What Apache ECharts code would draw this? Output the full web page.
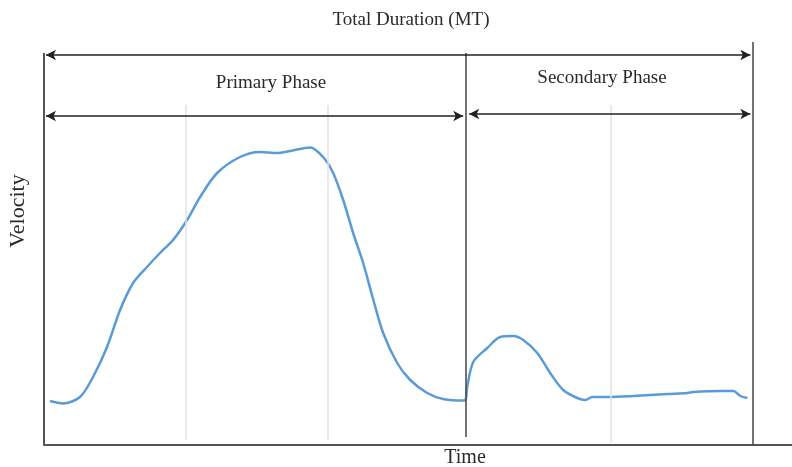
<!DOCTYPE html>
<html>
<head>
<meta charset="utf-8">
<script src="https://cdn.jsdelivr.net/npm/echarts@6/dist/echarts.min.js"></script>
<style>
  html, body { margin: 0; padding: 0; background: #fff; }
  #chart { width: 792px; height: 467px; }
</style>
</head>
<body>
<div id="chart"></div>
<script>
// time (normalised, 1 unit = one grid step) and velocity (0-100)
const time = [
  0.042, 0.134, 0.254, 0.346, 0.445, 0.537, 0.629, 0.727, 0.819, 0.911,
  1.010, 1.102, 1.222, 1.384, 1.525, 1.645, 1.737, 1.879, 1.970, 2.041,
  2.112, 2.182, 2.253, 2.323, 2.394, 2.493, 2.585, 2.705, 2.818, 2.966,
  2.987, 3.030, 3.129, 3.220, 3.312, 3.383, 3.482, 3.573, 3.665, 3.764,
  3.821, 3.870, 3.976, 4.160, 4.400, 4.541, 4.583, 4.774, 4.866, 4.915,
  4.965
];
const velocity = [
  11.0, 10.4, 12.0, 17.0, 24.5, 33.75, 40.5, 44.5, 48.0, 51.25,
  56.25, 62.0, 68.0, 72.0, 73.25, 73.0, 73.5, 74.4, 72.0, 68.0,
  61.25, 53.0, 45.5, 36.5, 28.0, 20.5, 16.25, 13.0, 11.5, 11.1,
  14.5, 20.75, 24.25, 27.0, 27.25, 26.25, 23.0, 18.0, 13.75, 11.75,
  11.25, 12.0, 12.0, 12.25, 12.75, 13.0, 13.25, 13.5, 13.5, 12.25,
  11.75
];

const gridTimes = [1, 2, 4];      // light vertical guides
const phaseEnd = 2.975;           // primary / secondary boundary
const totalEnd = 5.0;             // end of movement
const titleText = 'Total Duration (MT)';
const phaseNames = ['Primary Phase', 'Secondary Phase'];

const serif = '"Liberation Serif", "DejaVu Serif", serif';
const chart = echarts.init(document.getElementById('chart'));

const seg = (x1, y1, x2, y2, style, arrows) => [
  { coord: [x1, y1], lineStyle: style, symbol: arrows ? 'arrow' : 'none', symbolSize: [8, 10] },
  { coord: [x2, y2], symbol: arrows ? 'arrow' : 'none', symbolSize: [8, 10] }
];
const light = { color: '#e2e2e2', width: 1.5, type: 'solid' };
const dark = { color: '#444', width: 1.5, type: 'solid' };
const arrowStyle = { color: '#222', width: 1.5, type: 'solid' };

const lines = [];
gridTimes.forEach((t, i) => lines.push(seg(t, i === 2 ? 0.5 : 1.25, t, 85, light)));
lines.push(seg(0, 0, 0, 98, { color: '#555', width: 2, type: 'solid' }));
lines.push(seg(phaseEnd, 2, phaseEnd, 98, dark));
lines.push(seg(totalEnd, 0, totalEnd, 100.75, dark));
lines.push(seg(0.014, 97.5, 4.986, 97.5, arrowStyle, true));
lines.push(seg(0.014, 82.25, 2.959, 82.25, arrowStyle, true));
lines.push(seg(3.001, 82.75, 4.986, 82.75, arrowStyle, true));

const text = (x, y, str, size, rot) => ({
  type: 'text', x: x, y: y, rotation: rot || 0,
  style: { text: str, font: size + 'px ' + serif, fill: '#2a2a2a', align: 'center', verticalAlign: 'middle' }
});

chart.setOption({
  animation: false,
  grid: { left: 44, right: 0, top: 41, bottom: 22 },
  xAxis: {
    type: 'value', min: 0, max: 5.28,
    axisLine: { show: true, lineStyle: { color: '#555', width: 2 } },
    axisTick: { show: false }, axisLabel: { show: false }, splitLine: { show: false }
  },
  yAxis: {
    type: 'value', min: 0, max: 101,
    axisLine: { show: false }, axisTick: { show: false },
    axisLabel: { show: false }, splitLine: { show: false }
  },
  graphic: [
    text(411, 20, titleText, 19),
    text(271, 83, phaseNames[0], 19),
    text(602, 78, phaseNames[1], 19),
    text(18, 211, 'Velocity', 22, Math.PI / 2),
    text(465, 458, 'Time', 20)
  ],
  series: [{
    type: 'line',
    data: time.map((t, i) => [t, velocity[i]]),
    smooth: 0.3,
    showSymbol: false,
    clip: false,
    lineStyle: { color: '#5b9bd5', width: 2.5 },
    markLine: { silent: true, symbol: 'none', label: { show: false }, data: lines }
  }]
});
</script>
</body>
</html>
